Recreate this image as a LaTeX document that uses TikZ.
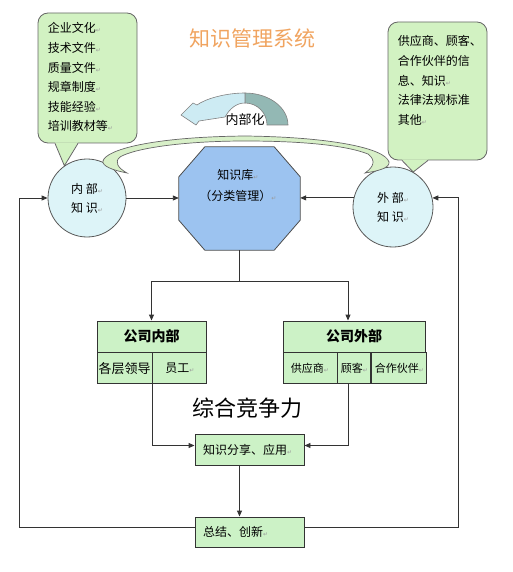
\documentclass[tikz,border=0pt]{standalone}
\usepackage{fontspec}
\usepackage{tikz}
\usetikzlibrary{arrows.meta, calc, positioning}
\setmainfont{Noto Sans CJK SC}
\newfontfamily\symfont{DejaVu Sans}
\definecolor{boxgreen}{HTML}{CCF2C6}
\definecolor{callgreen}{HTML}{D2F2C2}
\definecolor{circcyan}{HTML}{DDF4F8}
\definecolor{kbblue}{HTML}{9CC3F0}
\definecolor{linegray}{HTML}{333333}
\definecolor{titleorange}{HTML}{F0A460}
\definecolor{arcgreen}{HTML}{D8F0C8}
\definecolor{turnlight}{HTML}{CDEBF3}
\definecolor{turndark}{HTML}{93B8B4}
\newcommand{\enter}{{\color{black!40}\symfont\fontsize{6}{6}\selectfont ↵}}
\tikzset{
  conn/.style={draw=linegray, line width=0.9pt},
  arr/.style={conn, -{Triangle[length=6pt,width=5pt]}},
  cell/.style={draw=linegray, fill=boxgreen, line width=0.9pt, minimum height=31pt, inner sep=0pt, font=\fontsize{12}{12}\selectfont},
  knowcirc/.style={circle, draw=black!65, fill=circcyan, line width=0.8pt, align=center, font=\fontsize{12}{19}\selectfont},
  callbox/.style={draw=black!60, fill=callgreen, rounded corners=10pt, line width=0.8pt},
  calltext/.style={anchor=north west, align=left, inner sep=3pt, font=\fontsize{12}{19.6}\selectfont}
}
\begin{document}
\begin{tikzpicture}[x=1pt, y=-1pt]
\useasboundingbox (0,0) rectangle (513,572);
\node[font=\fontsize{21}{21}\selectfont, text=titleorange] (title) at (252,38) {知识管理系统};

\node[callbox, minimum width=99pt, minimum height=130pt] (inCall) at (87.5,78) {};
\node[callbox, minimum width=99pt, minimum height=138pt] (exCall) at (437.5,91) {};
\node[knowcirc, minimum size=78pt] (inC) at (87,198) {内 部\enter\\知 识\enter};
\node[knowcirc, minimum size=80pt] (exC) at (393,207) {外 部\enter\\知 识\enter};
\fill[callgreen] ([xshift=-32.5pt,yshift=1pt]inCall.south) -- (inC.125) -- ([xshift=-9.5pt,yshift=1pt]inCall.south) -- cycle;
\draw[black!60, line width=0.8pt] ([xshift=-32.5pt]inCall.south) -- (inC.125) -- ([xshift=-9.5pt]inCall.south);
\fill[callgreen] ([xshift=-35.5pt,yshift=1pt]exCall.south) -- (exC.60) -- ([xshift=-9.5pt,yshift=1pt]exCall.south) -- cycle;
\draw[black!60, line width=0.8pt] ([xshift=-35.5pt]exCall.south) -- (exC.60) -- ([xshift=-9.5pt]exCall.south);
\node[calltext] (inT) at ([shift={(7pt,-7pt)}]inCall.north west) {企业文化\enter\\技术文件\enter\\质量文件\enter\\规章制度\enter\\技能经验\enter\\培训教材等\enter};
\node[calltext] (exT) at ([shift={(7pt,-11pt)}]exCall.north west) {供应商、顾客、\\合作伙伴的信\\息、知识\enter\\法律法规标准\\其他\enter};

\draw[fill=arcgreen, draw=black!60, line width=0.7pt] (127,173) .. controls (112,170) and (102,166) .. (103,161) .. controls (106,150) and (150,137) .. (245,136) .. controls (330,137) and (385,148) .. (389,162) .. controls (390,168) and (378,171) .. (365,173) .. controls (374,167) and (376,160) .. (368,154) .. controls (345,145) and (300,141) .. (245,141) .. controls (185,141) and (135,148) .. (120,157) .. controls (114,162) and (118,168) .. (127,173) -- cycle;

\draw[fill=turndark, draw=black!50, line width=0.6pt] (288,125) .. controls (288,107.3) and (268.7,93) .. (245,93) -- (245,103) .. controls (257.2,103) and (267,112.8) .. (267,125) -- cycle;
\draw[fill=turnlight, draw=black!50, line width=0.6pt] (245,93) .. controls (225,93) and (205,99) .. (197,105) -- (193,103) -- (181,115) -- (196,125) -- (199,121) -- (225,117) .. controls (230,108) and (237,103) .. (245,103) -- cycle;
\node[font=\fontsize{13}{13}\selectfont] (inward) at (245,120) {内部化};

\node[minimum width=121pt, minimum height=103pt, inner sep=0pt] (kb) at (239.5,198.5) {};
\draw[fill=kbblue, draw=black!70, line width=0.8pt] ([xshift=26pt]kb.north west) -- ([xshift=-26pt]kb.north east) -- ([yshift=-30pt]kb.north east) -- ([yshift=30pt]kb.south east) -- ([xshift=-26pt]kb.south east) -- ([xshift=26pt]kb.south west) -- ([yshift=30pt]kb.south west) -- ([yshift=-30pt]kb.north west) -- cycle;
\node[align=center, font=\fontsize{12}{21}\selectfont] (kbT) at (238,186) {知识库\enter\\（分类管理）\enter};

\node[cell, minimum width=109pt, font=\fontsize{14}{14}\selectfont\bfseries] (inH) at (151.5,336.5) {公司内部};
\node[cell, minimum width=55pt, anchor=north west, font=\fontsize{13}{13}\selectfont] (inA) at (inH.south west) {各层领导};
\node[cell, minimum width=54pt, anchor=north west] (inE) at (inA.north east) {员工\enter};
\node[cell, minimum width=142pt, font=\fontsize{14}{14}\selectfont\bfseries] (exH) at (354,336.5) {公司外部};
\node[cell, minimum width=54pt, anchor=north west, font=\fontsize{11}{11}\selectfont] (exS) at (exH.south west) {供应商\enter};
\node[cell, minimum width=33pt, anchor=north west, font=\fontsize{11}{11}\selectfont] (exK) at (exS.north east) {顾客\enter};
\node[cell, minimum width=55pt, anchor=north west, font=\fontsize{11}{11}\selectfont] (exP) at (exK.north east) {合作伙伴\enter};

\node[font=\fontsize{22}{22}\selectfont] (power) at (247,408) {综合竞争力};
\node[cell, minimum width=109pt, text width=93pt, align=left] (share) at (249.5,449.5) {知识分享、应用\enter};
\node[cell, minimum width=109pt, minimum height=30pt, text width=93pt, align=left] (sum) at (249.5,532) {总结、创新\enter};

\draw[arr] (inC.east) -- (inC.east -| kb.west);
\draw[arr] (exC.167) -- (exC.167 -| kb.east);
\draw[conn] (kb.south) -- ++(0,31) coordinate (split);
\draw[arr] (split) -| (inH.north);
\draw[arr] (split) -| ([xshift=-6pt]exH.north);
\draw[arr] (inA.south east) |- ([yshift=4pt]share.west);
\draw[arr] ([xshift=-6pt]exK.south) |- ([yshift=4pt]share.east);
\draw[arr] ([xshift=-10pt]share.south) -- ([xshift=-10pt]sum.north);
\draw[arr] ([yshift=5pt]sum.west) -- ++(-175,0) |- (inC.west);
\draw[arr] ([yshift=5pt]sum.east) -- ++(154,0) |- (exC.13);
\end{tikzpicture}
\end{document}
